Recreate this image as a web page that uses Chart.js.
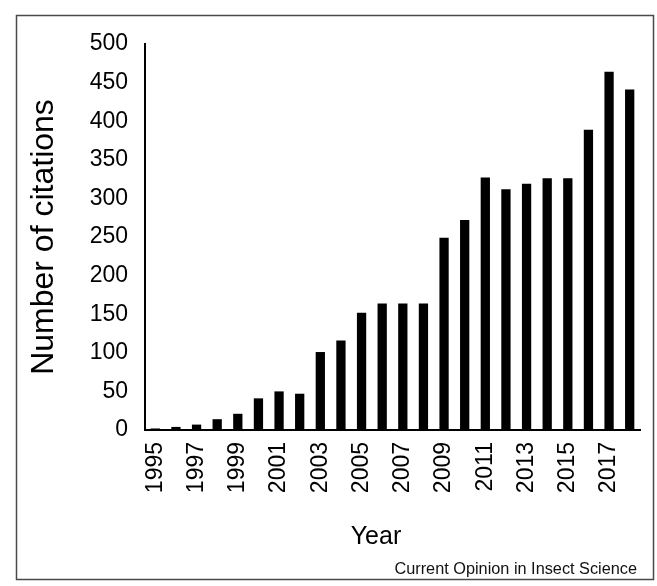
<!DOCTYPE html>
<html>
<head>
    <title>Number of citations</title>
    <script src="https://cdn.jsdelivr.net/npm/chart.js"></script>
    <style>
        html, body { margin: 0; padding: 0; background: #fff; }
        #wrap { width: 657px; height: 586px; }
    </style>
</head>
<body>
    <div id="wrap"><canvas id="myChart" width="657" height="586"></canvas></div>

    <script>
        // years and citation counts
        var years = ["1995", "1996", "1997", "1998", "1999", "2000", "2001", "2002", "2003", "2004", "2005", "2006",
                     "2007", "2008", "2009", "2010", "2011", "2012", "2013", "2014", "2015", "2016", "2017", "2018"];
        var citations = [2, 4, 7, 14, 21, 41, 50, 47, 101, 116, 152, 164,
                         164, 164, 249, 272, 327, 312, 319, 326, 326, 389, 464, 441];

        var yTitle = "Number of citations";
        var xTitle = "Year";
        var sourceText = "Current Opinion in Insect Science";

        var fontFamily = "'Liberation Sans', Arial, Helvetica, sans-serif";

        // frame round the figure, x title (sits a bit left of plot centre) and journal name
        var framePlugin = {
            id: "frame",
            afterDraw: function(chart) {
                var c = chart.ctx;
                c.save();
                c.strokeStyle = "#4a4a4a";
                c.lineWidth = 1.5;
                c.strokeRect(16.5, 15.5, 637, 564);
                c.fillStyle = "#000";
                c.font = "25px " + fontFamily;
                c.textAlign = "center";
                c.textBaseline = "middle";
                c.fillText(xTitle, 376, 537);
                c.fillStyle = "#111";
                c.font = "16.3px " + fontFamily;
                c.textAlign = "right";
                c.textBaseline = "alphabetic";
                c.fillText(sourceText, 637, 574);
                c.restore();
            }
        };

        var ctx = document.getElementById("myChart").getContext("2d");
        new Chart(ctx, {
            type: "bar",
            data: {
                labels: years,
                datasets: [{
                    label: yTitle,
                    data: citations,
                    backgroundColor: "#000",
                    barPercentage: 0.9,
                    categoryPercentage: 0.5
                }]
            },
            options: {
                responsive: false,
                animation: false,
                layout: {
                    padding: { left: 0, right: 17, top: 44, bottom: 0 }
                },
                plugins: {
                    legend: { display: false },
                    tooltip: { enabled: false }
                },
                scales: {
                    x: {
                        grid: { display: false, drawTicks: false },
                        border: { display: true, color: "#000", width: 2 },
                        afterFit: function(s) { s.height = 156; s.paddingLeft = 0; s.paddingRight = 0; },
                        ticks: {
                            autoSkip: false,
                            maxRotation: 90,
                            minRotation: 90,
                            padding: 12,
                            color: "#000",
                            font: { family: fontFamily, size: 23 },
                            callback: function(v, i) { return i % 2 === 0 ? years[i] : ""; }
                        }
                    },
                    y: {
                        min: 0,
                        max: 500,
                        grid: { display: false, drawTicks: false },
                        border: { display: true, color: "#000", width: 2 },
                        afterFit: function(s) { s.width = 145; s.paddingTop = 0; s.paddingBottom = 0; },
                        ticks: {
                            stepSize: 50,
                            padding: 17,
                            color: "#000",
                            font: { family: fontFamily, size: 23 }
                        },
                        title: {
                            display: true,
                            text: yTitle,
                            color: "#000",
                            font: { family: fontFamily, size: 32 },
                            padding: { top: 25, bottom: 0 }
                        }
                    }
                }
            },
            plugins: [framePlugin]
        });
    </script>
</body>
</html>
